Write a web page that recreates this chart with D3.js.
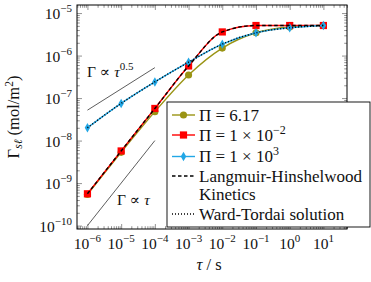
<!DOCTYPE html>
<html><head><meta charset="utf-8">
<script src="https://cdn.jsdelivr.net/npm/d3@7"></script>
<style>body{margin:0;background:#fff} svg{display:block} text{font-family:"Liberation Serif","Tinos","Times New Roman","DejaVu Serif",serif}</style>
</head><body><svg id="c" width="371" height="282" font-family="Liberation Serif, DejaVu Serif, serif"></svg>
<script>
// ---- data ----
const tau = [1e-6, 1e-5, 1e-4, 1e-3, 1e-2, 1e-1, 1, 10];
const gammaPi617  = [5.4e-10, 5.3e-9, 4.8e-8, 3.5e-7, 1.5e-6, 3.44e-6, 4.7e-6, 5.1e-6];
const gammaPi1em2 = [5.6e-10, 5.7e-9, 5.7e-8, 5.7e-7, 3.6e-6, 5.1e-6, 5.1e-6, 5.1e-6];
const gammaPi1e3  = [2.0e-8, 7.5e-8, 2.4e-7, 7.0e-7, 1.86e-6, 3.44e-6, 4.5e-6, 5.1e-6];
const lhKinetics  = [5.6e-10, 5.7e-9, 5.7e-8, 5.7e-7, 3.6e-6, 5.1e-6, 5.1e-6, 5.1e-6];
const wardTordai  = [2.0e-8, 7.5e-8, 2.4e-7, 7.0e-7, 1.86e-6, 3.44e-6, 4.5e-6, 5.1e-6];
const slopeHalfTau = [1e-6, 1e-4];
const slopeHalfGamma = [5.2e-8, 5.2e-7];
const slopeOneTau = [1e-6, 1e-4];
const slopeOneGamma = [1e-10, 1e-8];
const xTickExps = [-6, -5, -4, -3, -2, -1, 0, 1];
const yTickExps = [-10, -9, -8, -7, -6, -5];
const legendLabels = ["Π = 6.17", "Π = 1 × 10−2", "Π = 1 × 103", "Langmuir-Hinshelwood", "Ward-Tordai solution"];

const FONT = "Liberation Serif, Tinos, DejaVu Serif, serif";
const svg = d3.select("#c");
const L = 77, R = 347, T = 5, B = 229;
const x = d3.scaleLog().domain([Math.pow(10, -6.31), Math.pow(10, 1.70)]).range([L, R]);
const y = d3.scaleLog().domain([Math.pow(10, -10.08), Math.pow(10, -4.81)]).range([B, T]);

const minor = (lo, hi) => {
  const out = [];
  for (let d = lo; d <= hi; d++) for (let m = 2; m <= 9; m++) out.push(m * Math.pow(10, d));
  return out;
};
const xMinor = minor(-7, 1).filter(v => v >= x.domain()[0] && v <= x.domain()[1]);
const yMinor = minor(-11, -5).filter(v => v >= y.domain()[0] && v <= y.domain()[1]);
const xMajor = xTickExps.map(e => Math.pow(10, e));
const yMajor = yTickExps.map(e => Math.pow(10, e));

function tickAxis(gen, transform, vals, size) {
  const g = svg.append("g").attr("transform", transform)
    .call(gen.tickValues(vals).tickSize(-size).tickFormat(""));
  g.select(".domain").remove();
  g.selectAll(".tick line").attr("stroke", "#666").attr("stroke-width", 0.7);
  return g;
}
tickAxis(d3.axisBottom(x), `translate(0,${B})`, xMinor, 2.8);
tickAxis(d3.axisBottom(x), `translate(0,${B})`, xMajor, 5);
tickAxis(d3.axisTop(x), `translate(0,${T})`, xMinor, 2.8);
tickAxis(d3.axisTop(x), `translate(0,${T})`, xMajor, 5);
tickAxis(d3.axisLeft(y), `translate(${L},0)`, yMinor, 2.8);
tickAxis(d3.axisLeft(y), `translate(${L},0)`, yMajor, 5);
tickAxis(d3.axisRight(y), `translate(${R},0)`, yMinor, 2.8);
tickAxis(d3.axisRight(y), `translate(${R},0)`, yMajor, 5);

const txt = (sel) => sel.append("text").attr("font-family", FONT).attr("fill", "#111");

// tick labels
xTickExps.forEach(e => {
  const t = txt(svg).attr("x", x(Math.pow(10, e))).attr("y", 248.5)
    .attr("text-anchor", "middle").attr("font-size", 15.5);
  t.append("tspan").text("10");
  t.append("tspan").attr("dy", -7).attr("font-size", 11).text(e < 0 ? "−" + (-e) : String(e));
});
yTickExps.forEach(e => {
  const t = txt(svg).attr("x", 72).attr("y", y(Math.pow(10, e)) + 6)
    .attr("text-anchor", "end").attr("font-size", 15.5);
  t.append("tspan").text("10");
  t.append("tspan").attr("dy", -7).attr("font-size", 11).text("−" + (-e));
});

// axis titles
{
  const t = txt(svg).attr("x", 209).attr("y", 270).attr("text-anchor", "middle").attr("font-size", 16.5);
  t.append("tspan").attr("font-style", "italic").text("τ");
  t.append("tspan").text(" / s");
}
{
  const t = txt(svg).attr("transform", "translate(19,117) rotate(-90)")
    .attr("text-anchor", "middle").attr("font-size", 16.5);
  t.append("tspan").text("Γ");
  t.append("tspan").attr("dy", 3).attr("font-size", 11.5).attr("font-style", "italic").text("sℓ");
  t.append("tspan").attr("dy", -3).text(" (mol/m");
  t.append("tspan").attr("dy", -6).attr("font-size", 11.5).text("2");
  t.append("tspan").attr("dy", 6).text(")");
}

// clip
svg.append("clipPath").attr("id", "clip").append("rect").attr("x", L).attr("y", T).attr("width", R - L).attr("height", B - T);
const plot = svg.append("g").attr("clip-path", "url(#clip)");

// slope guide lines
plot.append("line").attr("x1", x(slopeHalfTau[0])).attr("y1", y(slopeHalfGamma[0]))
  .attr("x2", x(slopeHalfTau[1])).attr("y2", y(slopeHalfGamma[1])).attr("stroke", "#333").attr("stroke-width", 0.8);
plot.append("line").attr("x1", x(slopeOneTau[0])).attr("y1", y(slopeOneGamma[0]))
  .attr("x2", x(slopeOneTau[1])).attr("y2", y(slopeOneGamma[1])).attr("stroke", "#333").attr("stroke-width", 0.8);

{
  const t = txt(svg).attr("x", 87).attr("y", 77).attr("font-size", 15.5);
  t.append("tspan").text("Γ ∝ ");
  t.append("tspan").attr("font-style", "italic").text("τ");
  t.append("tspan").attr("dy", -7).attr("font-size", 11).text("0.5");
}
{
  const t = txt(svg).attr("x", 117).attr("y", 205).attr("font-size", 15.5);
  t.append("tspan").text("Γ ∝ ");
  t.append("tspan").attr("font-style", "italic").text("τ");
}

const line = d3.line().x(d => x(d[0])).y(d => y(d[1])).curve(d3.curveMonotoneX);
const zip = vals => tau.map((t, i) => [t, vals[i]]);

const olive = "#9a9414", red = "#ff0000", blue = "#22a7e6";
const sym = {
  circle: d3.symbol().type(d3.symbolCircle).size(40),
  square: d3.symbol().type(d3.symbolSquare).size(52),
  diamond: d3.symbol().type(d3.symbolDiamond).size(26)
};

function series(vals, color, shape) {
  plot.append("path").attr("d", line(zip(vals))).attr("fill", "none").attr("stroke", color).attr("stroke-width", 1.4);
  plot.selectAll(null).data(zip(vals)).enter().append("path")
    .attr("transform", d => `translate(${x(d[0])},${y(d[1])})`)
    .attr("d", sym[shape]).attr("fill", color);
}
series(gammaPi617, olive, "circle");
series(gammaPi1em2, red, "square");
series(gammaPi1e3, blue, "diamond");
plot.append("path").attr("d", line(zip(lhKinetics))).attr("fill", "none").attr("stroke", "#000")
  .attr("stroke-width", 1.4).attr("stroke-dasharray", "3.5,2.5");
plot.append("path").attr("d", line(zip(wardTordai))).attr("fill", "none").attr("stroke", "#000")
  .attr("stroke-width", 1.5).attr("stroke-dasharray", "1,2");

// frame
svg.append("rect").attr("x", L).attr("y", T).attr("width", R - L).attr("height", B - T)
  .attr("fill", "none").attr("stroke", "#000").attr("stroke-width", 1);

// legend
const lg = svg.append("g");
lg.append("rect").attr("x", 167).attr("y", 102).attr("width", 203).attr("height", 125)
  .attr("fill", "#fff").attr("stroke", "#000").attr("stroke-width", 0.9);
const rows = [
  {yy: 115, color: olive, shape: "circle"},
  {yy: 135, color: red, shape: "square"},
  {yy: 156.5, color: blue, shape: "diamond"},
  {yy: 176, color: "#000", dash: "3.5,2.5"},
  {yy: 214, color: "#000", dash: "1,2"}
];
rows.forEach((r, i) => {
  lg.append("line").attr("x1", 172).attr("x2", 195).attr("y1", r.yy).attr("y2", r.yy)
    .attr("stroke", r.color).attr("stroke-width", 1.4).attr("stroke-dasharray", r.dash || null);
  if (r.shape) lg.append("path").attr("transform", `translate(183.5,${r.yy})`).attr("d", sym[r.shape]).attr("fill", r.color);
  const t = txt(lg).attr("x", 199).attr("y", r.yy + 5.5).attr("font-size", 17);
  if (i === 0) t.text(legendLabels[0]);
  else if (i === 1) { t.append("tspan").text("Π = 1 × 10"); t.append("tspan").attr("dy", -7).attr("font-size", 12).text("−2"); }
  else if (i === 2) { t.append("tspan").text("Π = 1 × 10"); t.append("tspan").attr("dy", -7).attr("font-size", 12).text("3"); }
  else t.text(legendLabels[i]);
});
txt(lg).attr("x", 199).attr("y", 194.3 + 5.5).attr("font-size", 17).text("Kinetics");
</script></body></html>
